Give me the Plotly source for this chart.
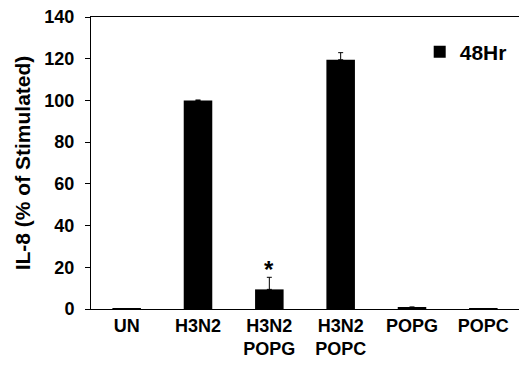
import plotly.graph_objects as go

categories = ["UN", "H3N2", "H3N2<br>POPG", "H3N2<br>POPC", "POPG", "POPC"]
values_48hr = [0.2, 100.0, 9.4, 119.5, 0.6, 0.2]
errors_48hr = [0.0, 0.2, 5.8, 3.4, 0.4, 0.0]
y_ticks = [0, 20, 40, 60, 80, 100, 120, 140]
series_name = "48Hr"
y_title = "IL-8 (% of Stimulated)"

FONT = "Liberation Sans, Arial, sans-serif"

fig = go.Figure()
fig.add_trace(go.Bar(
    x=categories, y=values_48hr, name=series_name,
    marker=dict(color="black", line=dict(width=0)),
    width=0.4,
    error_y=dict(type="data", array=errors_48hr, arrayminus=[0]*len(errors_48hr),
                 symmetric=False, color="black", thickness=1, width=2.5),
    showlegend=True,
))

fig.add_annotation(x=categories[2], y=values_48hr[2] + errors_48hr[2], yshift=-8,
                   text="*", showarrow=False, yanchor="bottom",
                   font=dict(family=FONT, size=24, color="black"))

fig.update_layout(
    width=519, height=371,
    margin=dict(l=91, r=0, t=17, b=62, autoexpand=False),
    paper_bgcolor="white", plot_bgcolor="white",
    font=dict(family=FONT, color="black", size=18, weight="bold"),
    showlegend=True,
    legend=dict(x=0.768, y=0.88, xanchor="left", yanchor="middle",
                bgcolor="rgba(0,0,0,0)", font=dict(size=21, weight="bold"),
                itemwidth=30),
    xaxis=dict(showline=True, linecolor="black", linewidth=1, mirror=True,
               showgrid=False, ticks="", range=[-0.5, 5.5], automargin=False,
               tickfont=dict(size=18, weight="bold")),
    yaxis=dict(showline=True, linecolor="black", linewidth=1, mirror=False,
               showgrid=False, zeroline=False, ticks="outside", ticklen=5,
               tickcolor="black", range=[0, 140], tickvals=y_ticks,
               automargin=False, ticklabelstandoff=7,
               tickfont=dict(size=18, weight="bold"),
               title=dict(text=y_title, font=dict(size=21, weight="bold"), standoff=8)),
)

fig.write_html("out.html", config={"displayModeBar": False},
               post_script="document.body.style.margin='0';")
